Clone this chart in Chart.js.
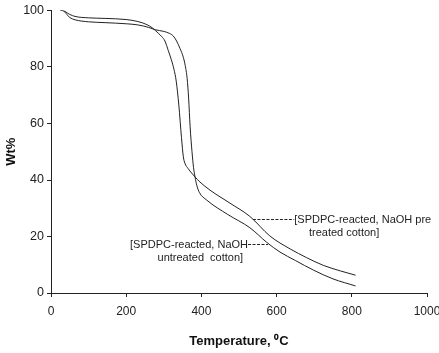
<!DOCTYPE html>
<html lang="en">
<head>
    <meta charset="UTF-8">
    <title>TGA curves</title>
    <script src="https://cdn.jsdelivr.net/npm/chart.js"></script>
    <style>
        body { margin: 0; padding: 0; background: #fff; }
        .chart-wrapper { width: 439px; height: 353px; }
    </style>
</head>
<body>
    <div class="chart-wrapper">
        <canvas id="tgaChart"></canvas>
    </div>

    <script>
        // pretreated cotton: drops first, ends higher
        const pretreatedTemp = [25, 30, 50, 64, 100, 144, 200, 231, 255, 270, 285, 295, 303, 312, 320, 327, 333, 340, 347, 352, 356, 365, 383, 396, 423, 476, 529, 582, 636, 680, 724, 770, 810];
        const pretreatedWt = [100, 100, 98.6, 97.9, 97.4, 97.2, 96.8, 96.1, 95.0, 93.8, 92.0, 90.7, 89.2, 85.8, 82.6, 79.2, 75.0, 66.5, 55.0, 48.2, 46.0, 44.0, 41.1, 39.3, 36.4, 31.8, 27.1, 20.2, 15.6, 12.5, 9.8, 7.8, 6.3];

        // untreated cotton: drops later, ends lower
        const untreatedTemp = [25, 30, 50, 64, 100, 144, 200, 231, 260, 277, 300, 315, 325, 334, 343, 352, 357, 362, 366, 370, 375, 379, 383, 388, 395, 414, 470, 529, 574, 609, 650, 698, 750, 810];
        const untreatedWt = [100, 100, 97.5, 96.7, 96.0, 95.7, 95.3, 94.9, 94.0, 93.2, 92.6, 91.9, 91.0, 89.2, 86.6, 83.4, 80.5, 76.0, 69.0, 58.9, 50.0, 44.5, 41.1, 38.0, 35.5, 32.9, 27.8, 23.1, 17.9, 14.5, 11.5, 8.1, 5.0, 2.5];

        const xTicks = [0, 200, 400, 600, 800, 1000];
        const yTicks = [0, 20, 40, 60, 80, 100];

        const pretreatedLabel = ['[SPDPC-reacted, NaOH pre', 'treated cotton]'];
        const untreatedLabel = ['[SPDPC-reacted, NaOH', 'untreated  cotton]'];

        const toPoints = (xs, ys) => xs.map((x, i) => ({ x: x, y: ys[i] }));

        // text labels with dashed leaders
        const labelPlugin = {
            id: 'curveLabels',
            afterDatasetsDraw(chart) {
                const ctx = chart.ctx;
                const xs = chart.scales.x;
                const ys = chart.scales.y;
                ctx.save();
                ctx.fillStyle = '#222';
                ctx.strokeStyle = '#222';
                ctx.lineWidth = 1;
                ctx.font = '11px "Liberation Sans", Arial, sans-serif';
                ctx.textBaseline = 'middle';

                // pretreated
                let y1 = Math.round(ys.getPixelForValue(26.1)) + 0.5;
                ctx.setLineDash([3, 1.5]);
                ctx.beginPath();
                ctx.moveTo(xs.getPixelForValue(537), y1);
                ctx.lineTo(xs.getPixelForValue(647), y1);
                ctx.stroke();
                ctx.setLineDash([]);
                ctx.textAlign = 'left';
                ctx.fillText(pretreatedLabel[0], xs.getPixelForValue(647), y1);
                ctx.fillText(pretreatedLabel[1], xs.getPixelForValue(686), y1 + 13.5);

                // untreated
                let y2 = Math.round(ys.getPixelForValue(17.5)) + 0.5;
                ctx.setLineDash([3, 1.5]);
                ctx.beginPath();
                ctx.moveTo(xs.getPixelForValue(524), y2);
                ctx.lineTo(xs.getPixelForValue(577), y2);
                ctx.stroke();
                ctx.setLineDash([]);
                ctx.textAlign = 'right';
                ctx.fillText(untreatedLabel[0], xs.getPixelForValue(524), y2);
                ctx.fillText(untreatedLabel[1], xs.getPixelForValue(511), y2 + 13.5);
                ctx.restore();
            }
        };

        const lineStyle = {
            borderColor: '#222',
            borderWidth: 1,
            pointRadius: 0,
            fill: false,
            cubicInterpolationMode: 'monotone'
        };

        new Chart(document.getElementById('tgaChart').getContext('2d'), {
            type: 'line',
            data: {
                datasets: [
                    Object.assign({ label: 'NaOH pretreated', data: toPoints(pretreatedTemp, pretreatedWt) }, lineStyle),
                    Object.assign({ label: 'NaOH untreated', data: toPoints(untreatedTemp, untreatedWt) }, lineStyle)
                ]
            },
            options: {
                responsive: true,
                maintainAspectRatio: false,
                animation: false,
                layout: { padding: { top: 6, right: 12, left: 0, bottom: 0 } },
                plugins: {
                    legend: { display: false },
                    tooltip: { enabled: false }
                },
                scales: {
                    x: {
                        type: 'linear',
                        min: 0,
                        max: 1000,
                        afterBuildTicks(scale) { scale.ticks = xTicks.map(v => ({ value: v })); },
                        afterFit(scale) { scale.height = 60; scale.paddingLeft = 0; scale.paddingRight = 0; },
                        border: { color: '#222', width: 1 },
                        grid: { drawOnChartArea: false, drawTicks: true, tickLength: 4, color: '#222' },
                        ticks: {
                            color: '#222',
                            padding: 7,
                            maxRotation: 0,
                            callback: v => String(v),
                            font: { family: '"Liberation Sans", Arial, sans-serif', size: 12 }
                        },
                        title: {
                            display: true,
                            text: 'Temperature, \u2070C',
                            color: '#111',
                            padding: { top: 1 },
                            font: { family: '"Liberation Sans", Arial, sans-serif', size: 13, weight: 'bold' }
                        }
                    },
                    y: {
                        min: 0,
                        max: 100,
                        afterBuildTicks(scale) { scale.ticks = yTicks.map(v => ({ value: v })); },
                        afterFit(scale) { scale.width = 51; },
                        border: { color: '#222', width: 1 },
                        grid: { drawOnChartArea: false, drawTicks: true, tickLength: 4, color: '#222' },
                        ticks: {
                            color: '#222',
                            padding: 3,
                            callback: v => String(v),
                            font: { family: '"Liberation Sans", Arial, sans-serif', size: 12.5 }
                        },
                        title: {
                            display: true,
                            text: 'Wt%',
                            color: '#111',
                            padding: { top: 4, bottom: 0 },
                            font: { family: '"Liberation Sans", Arial, sans-serif', size: 13, weight: 'bold' }
                        }
                    }
                }
            },
            plugins: [labelPlugin]
        });
    </script>
</body>
</html>
